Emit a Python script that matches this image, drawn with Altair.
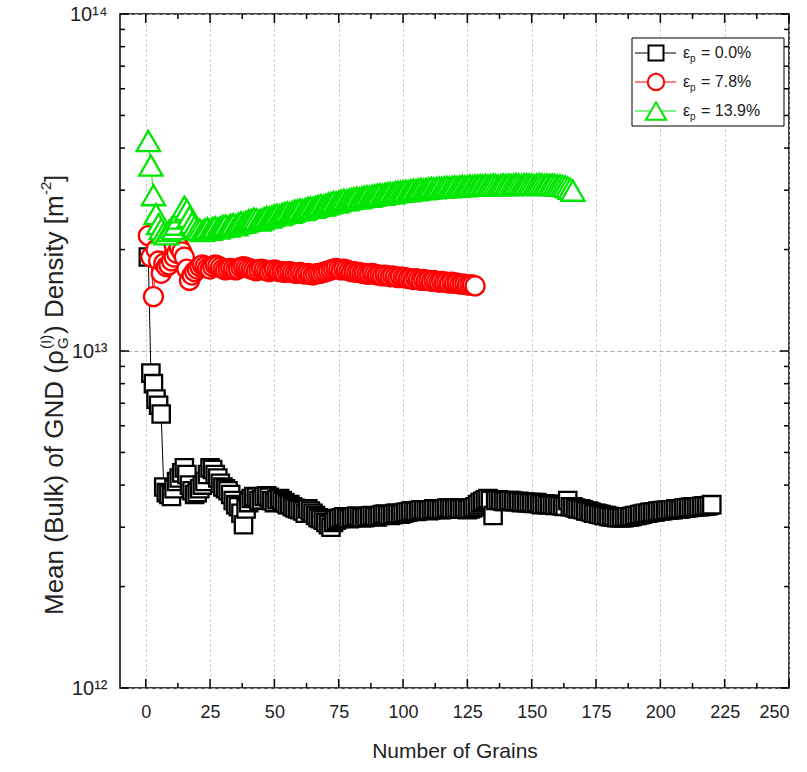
import altair as alt
import pandas as pd

# ---------------- data ----------------
# eps_p = 0.0 %  (units of 1e12 m^-2), grains 1..220
rho_00 = [
    19.0, 8.6, 8.0, 7.2, 6.9, 6.5, 3.95, 3.8, 3.75, 3.7,
    3.9, 4.1, 4.2, 4.35, 4.5, 4.3, 4.0, 3.85, 3.75, 3.8,
    3.9, 4.0, 4.1, 4.3, 4.5, 4.45, 4.3, 4.2, 4.05, 3.95,
    3.9, 3.85, 3.75, 3.6, 3.5, 3.45, 3.3, 3.05, 3.4, 3.55,
    3.65, 3.7, 3.68, 3.6, 3.62, 3.7, 3.72, 3.68, 3.6, 3.55,
    3.62, 3.65, 3.6, 3.55, 3.5, 3.5, 3.45, 3.42, 3.4, 3.38,
    3.35, 3.3, 3.4, 3.35, 3.3, 3.25, 3.2, 3.18, 3.15, 3.1,
    3.05, 3.0, 3.1, 3.15, 3.18, 3.2, 3.22, 3.2, 3.18, 3.2,
    3.22, 3.24, 3.22, 3.2, 3.2, 3.22, 3.24, 3.25, 3.23, 3.22,
    3.25, 3.27, 3.28, 3.26, 3.25, 3.27, 3.3, 3.3, 3.28, 3.3,
    3.32, 3.33, 3.35, 3.35, 3.34, 3.36, 3.38, 3.38, 3.37, 3.36,
    3.38, 3.4, 3.4, 3.39, 3.38, 3.4, 3.42, 3.42, 3.4, 3.4,
    3.42, 3.4, 3.4, 3.42, 3.38, 3.4, 3.42, 3.45, 3.5, 3.55,
    3.58, 3.62, 3.65, 3.6, 3.25, 3.6, 3.62, 3.6, 3.58, 3.58,
    3.6, 3.6, 3.58, 3.57, 3.58, 3.55, 3.56, 3.55, 3.55, 3.55,
    3.53, 3.55, 3.52, 3.5, 3.52, 3.5, 3.5, 3.5, 3.48, 3.5,
    3.48, 3.47, 3.46, 3.6, 3.45, 3.45, 3.42, 3.4, 3.4, 3.38,
    3.35, 3.35, 3.33, 3.3, 3.3, 3.28, 3.27, 3.25, 3.25, 3.23,
    3.22, 3.22, 3.2, 3.2, 3.2, 3.2, 3.22, 3.22, 3.23, 3.25,
    3.25, 3.27, 3.28, 3.3, 3.3, 3.32, 3.33, 3.33, 3.35, 3.35,
    3.36, 3.37, 3.37, 3.38, 3.38, 3.4, 3.4, 3.4, 3.42, 3.42,
    3.43, 3.44, 3.44, 3.45, 3.45, 3.46, 3.47, 3.47, 3.48, 3.5,
]

# eps_p = 7.8 %  (units of 1e13 m^-2), grains 1..128
rho_78 = [
    2.2, 1.9, 1.45, 2.0, 1.85, 1.7, 1.82, 1.78, 1.8, 1.85,
    1.9, 1.95, 2.03, 1.97, 1.9, 1.75, 1.62, 1.68, 1.72, 1.75,
    1.78, 1.8, 1.78, 1.76, 1.75, 1.78, 1.8, 1.79, 1.77, 1.75,
    1.74, 1.75, 1.76, 1.75, 1.74, 1.75, 1.77, 1.78, 1.77, 1.76,
    1.75, 1.74, 1.73, 1.74, 1.75, 1.74, 1.73, 1.72, 1.73, 1.74,
    1.73, 1.72, 1.72, 1.71, 1.72, 1.72, 1.71, 1.7, 1.7, 1.71,
    1.7, 1.69, 1.7, 1.69, 1.68, 1.69, 1.7, 1.7, 1.71, 1.72,
    1.73, 1.74, 1.75, 1.76, 1.75, 1.74, 1.75, 1.74, 1.73, 1.72,
    1.72, 1.71, 1.71, 1.7, 1.7, 1.69, 1.69, 1.7, 1.69, 1.68,
    1.68, 1.67, 1.68, 1.67, 1.66, 1.67, 1.66, 1.65, 1.66, 1.65,
    1.65, 1.64, 1.64, 1.63, 1.64, 1.63, 1.62, 1.63, 1.62, 1.62,
    1.61, 1.62, 1.61, 1.6, 1.61, 1.6, 1.6, 1.59, 1.6, 1.59,
    1.59, 1.58, 1.58, 1.58, 1.57, 1.57, 1.57, 1.56,
]

# eps_p = 13.9 %  (units of 1e13 m^-2), grains 1..166
rho_139 = [
    4.2, 3.55, 2.9, 2.55, 2.38, 2.3, 2.24, 2.22, 2.27, 2.32,
    2.3, 2.37, 2.47, 2.58, 2.68, 2.62, 2.5, 2.4, 2.34, 2.3,
    2.29, 2.27, 2.3, 2.31, 2.29, 2.32, 2.33, 2.31, 2.33, 2.35,
    2.36, 2.34, 2.37, 2.38, 2.36, 2.39, 2.41, 2.4, 2.42, 2.44,
    2.45, 2.47, 2.46, 2.44, 2.46, 2.48, 2.5, 2.49, 2.51, 2.53,
    2.54, 2.53, 2.55, 2.57, 2.58, 2.57, 2.59, 2.61, 2.62, 2.63,
    2.62, 2.64, 2.66, 2.67, 2.66, 2.68, 2.7, 2.71, 2.7, 2.72,
    2.74, 2.75, 2.77, 2.76, 2.78, 2.8, 2.81, 2.8, 2.82, 2.83,
    2.84, 2.85, 2.84, 2.86, 2.87, 2.88, 2.87, 2.89, 2.9, 2.91,
    2.92, 2.91, 2.93, 2.94, 2.95, 2.94, 2.96, 2.97, 2.97, 2.98,
    2.99, 2.98, 3.0, 3.01, 3.0, 3.02, 3.03, 3.02, 3.03, 3.04,
    3.05, 3.04, 3.05, 3.06, 3.05, 3.06, 3.07, 3.06, 3.07, 3.08,
    3.07, 3.08, 3.09, 3.08, 3.09, 3.1, 3.09, 3.1, 3.1, 3.11,
    3.1, 3.11, 3.1, 3.11, 3.12, 3.11, 3.1, 3.11, 3.12, 3.11,
    3.12, 3.11, 3.12, 3.13, 3.12, 3.11, 3.12, 3.13, 3.12, 3.12,
    3.11, 3.12, 3.13, 3.12, 3.11, 3.12, 3.11, 3.12, 3.11, 3.1,
    3.1, 3.09, 3.08, 3.06, 3.03, 2.99,
]

series_labels = ["0.0%", "7.8%", "13.9%"]
series_colors = ["#000000", "#ff0000", "#00e600"]
series_shapes = ["square", "circle", "triangle-up"]
series_sizes = [300, 360, 540]

x_major = [0, 25, 50, 75, 100, 125, 150, 175, 200, 225, 250]
x_minor = [12.5, 37.5, 62.5, 87.5, 112.5, 137.5, 162.5, 187.5, 212.5, 237.5]
y_major = [1e12, 1e13, 1e14]
y_minor = [m * 1e12 for m in range(2, 10)] + [m * 1e13 for m in range(2, 10)]

# ---------------- layout ----------------
W, H = 669, 674
FONT = "Liberation Sans"

xscale = alt.Scale(domain=[-10, 250], nice=False, zero=False)
yscale = alt.Scale(type="log", domain=[1e12, 1e14], nice=False)

xaxis = alt.Axis(values=x_major, title="Number of Grains", ticks=False, domain=False,
                 grid=True, gridDash=[2, 3], gridColor="#bdbdbd", gridWidth=1,
                 labelFontSize=18, labelColor="#222222", labelPadding=15,
                 titleFontSize=21, titleFontWeight="normal", titleColor="#222222",
                 titlePadding=19, labelFont=FONT, titleFont=FONT)
yaxis = alt.Axis(values=y_major, title="", ticks=False, domain=False,
                 grid=True, gridDash=[4, 3], gridColor="#aaaaaa", gridWidth=1,
                 labelExpr="datum.value > 5e13 ? '10¹⁴' : (datum.value > 5e12 ? '10¹³' : '10¹²')",
                 labelFontSize=20, labelColor="#222222", labelPadding=13, labelFont=FONT)

X = alt.X("grains:Q", scale=xscale, axis=xaxis)
Y = alt.Y("rho:Q", scale=yscale, axis=yaxis)

df_list = [
    pd.DataFrame({"grains": list(range(1, len(rho_00) + 1)), "rho": [v * 1e12 for v in rho_00]}),
    pd.DataFrame({"grains": list(range(1, len(rho_78) + 1)), "rho": [v * 1e13 for v in rho_78]}),
    pd.DataFrame({"grains": list(range(1, len(rho_139) + 1)), "rho": [v * 1e13 for v in rho_139]}),
]

one = pd.DataFrame({"d": [0]})
layers = []

# data series: thin connecting line + hollow (white-filled) markers
for df, col, shp, sz in zip(df_list, series_colors, series_shapes, series_sizes):
    ln = alt.Chart(df).mark_line(color=col, strokeWidth=1).encode(x=X, y=Y, order="grains:Q")
    pt = alt.Chart(df).mark_point(shape=shp, filled=True, fill="white", fillOpacity=1,
                                  stroke=col, strokeWidth=2.3, size=sz, opacity=1).encode(x=X, y=Y)
    layers += [ln, pt]

# inward ticks on all four sides
def xticks(vals, length):
    d = pd.DataFrame({"grains": vals})
    b = alt.Chart(d).mark_rule(color="#000000", strokeWidth=1.5).encode(
        x=X, y=alt.value(H), y2=alt.value(H - length))
    t = alt.Chart(d).mark_rule(color="#000000", strokeWidth=1.5).encode(
        x=X, y=alt.value(0), y2=alt.value(length))
    return [b, t]

def yticks(vals, length):
    d = pd.DataFrame({"rho": vals})
    l = alt.Chart(d).mark_rule(color="#000000", strokeWidth=1.5).encode(
        y=Y, x=alt.value(0), x2=alt.value(length))
    r = alt.Chart(d).mark_rule(color="#000000", strokeWidth=1.5).encode(
        y=Y, x=alt.value(W), x2=alt.value(W - length))
    return [l, r]

layers += xticks(x_major, 9) + xticks(x_minor, 5) + yticks(y_major, 9) + yticks(y_minor, 5)

# legend (manual, top right inside the frame)
LX0, LX1, LY0, LY1 = 512, 664, 24, 112
layers.append(alt.Chart(one).mark_rect(fill="white", stroke="#000000", strokeWidth=1).encode(
    x=alt.value(LX0), x2=alt.value(LX1), y=alt.value(LY0), y2=alt.value(LY1)))
row_y = [39, 68, 97]
for lab, col, shp, sz, ry in zip(series_labels, series_colors, series_shapes, series_sizes, row_y):
    layers.append(alt.Chart(one).mark_rule(color=col, strokeWidth=1).encode(
        x=alt.value(515), x2=alt.value(556), y=alt.value(ry)))
    layers.append(alt.Chart(one).mark_point(shape=shp, filled=True, fill="white", stroke=col,
                                            strokeWidth=2, size=sz * 0.75, opacity=1).encode(
        x=alt.value(536), y=alt.value(ry)))
    layers.append(alt.Chart(one).mark_text(text="ε", fontSize=16, font=FONT, align="left",
                                           baseline="middle", color="#222222").encode(
        x=alt.value(563), y=alt.value(ry)))
    layers.append(alt.Chart(one).mark_text(text="p", fontSize=10, font=FONT, align="left",
                                           baseline="middle", color="#222222").encode(
        x=alt.value(570), y=alt.value(ry + 6)))
    layers.append(alt.Chart(one).mark_text(text="= " + lab, fontSize=16, font=FONT, align="left",
                                           baseline="middle", color="#222222").encode(
        x=alt.value(581), y=alt.value(ry)))

# rotated y-axis title built from pieces (sub/superscripts)
FS, SS = 26, 15
XB = -57          # baseline of main text (plot coords)
pieces = [
    ("Mean (Bulk) of GND (ρ", FS, XB, 601),
    ("(I)", SS, XB - 12, 335),
    ("G", SS, XB + 5, 335),
    (") Density [m", FS, XB, 320),
    ("-2", SS, XB - 12, 181),
    ("]", FS, XB, 168),
]
for txt, fs, xx, yy in pieces:
    layers.append(alt.Chart(one).mark_text(text=txt, fontSize=fs, font=FONT, angle=270,
                                           align="left", baseline="alphabetic",
                                           color="#222222").encode(
        x=alt.value(xx), y=alt.value(yy)))

chart = alt.layer(*layers).properties(
    width=W, height=H,
    padding={"left": 120, "top": 14, "right": 18, "bottom": 84},
    autosize=alt.AutoSizeParams(type="none"),
).configure(font=FONT, background="white").configure_view(stroke="#000000", strokeWidth=1.5)

chart.save("out.html", embed_options={"renderer": "svg", "actions": False})
